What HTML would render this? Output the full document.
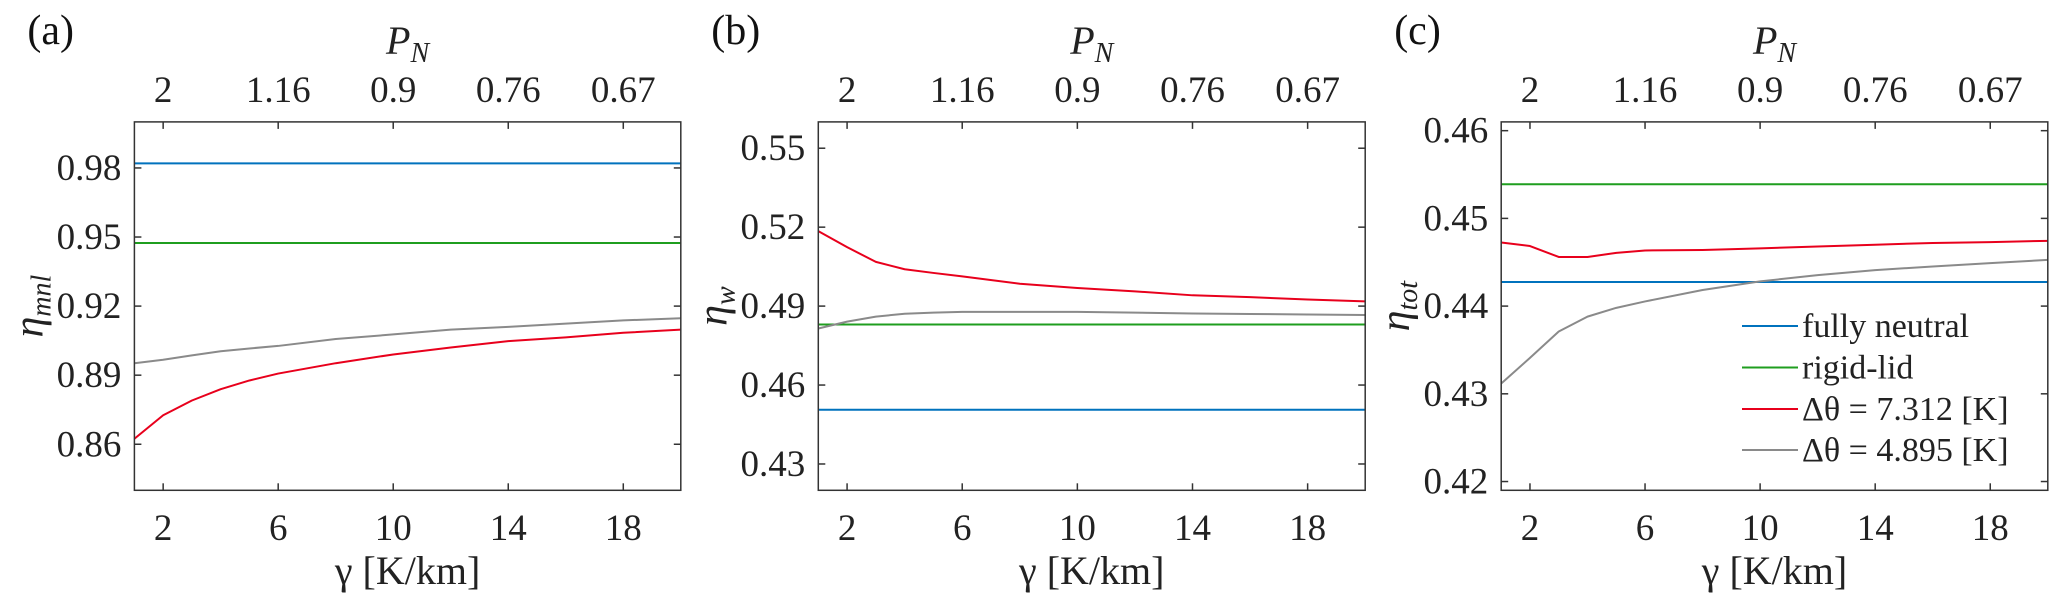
<!DOCTYPE html>
<html><head><meta charset="utf-8"><style>
html,body{margin:0;padding:0;background:#fff;}
svg text{font-family:"Liberation Serif","Times New Roman",Times,"DejaVu Serif",serif;}
</style></head><body>
<svg id="fig" width="2067" height="605" viewBox="0 0 2067 605" xmlns="http://www.w3.org/2000/svg"></svg>
<script>
const gammaX = [1,2,3,4,5,6,8,10,12,14,16,18,20];
const xTicks = [2,6,10,14,18];
const topTickLabels = ["2","1.16","0.9","0.76","0.67"];
// panel (a) eta_mnl
const aNeutral = 0.982;
const aRigid = 0.9474;
const aRed = [0.8624,0.8726,0.879,0.8839,0.8877,0.8907,0.8952,0.899,0.902,0.9048,0.9064,0.9084,0.9098];
const aGray = [0.8952,0.8967,0.8986,0.9004,0.9016,0.9027,0.9057,0.9077,0.9098,0.911,0.9124,0.9138,0.9147];
const aYTicks = [0.86,0.89,0.92,0.95,0.98];
// panel (b) eta_w
const bNeutral = 0.4506;
const bRigid = 0.483;
const bRed = [0.5185,0.5124,0.5068,0.504,0.5026,0.5013,0.4985,0.4969,0.4956,0.4941,0.4934,0.4925,0.4918];
const bGray = [0.4815,0.4841,0.486,0.4871,0.4875,0.4878,0.4878,0.4878,0.4875,0.4872,0.487,0.4868,0.4866];
const bYTicks = [0.43,0.46,0.49,0.52,0.55];
// panel (c) eta_tot
const cNeutral = 0.44275;
const cRigid = 0.45389;
const cRed = [0.44725,0.44685,0.4456,0.4456,0.44607,0.44634,0.4464,0.44658,0.4468,0.447,0.4472,0.4473,0.44744];
const cGray = [0.43117,0.4341,0.4371,0.4388,0.4398,0.44053,0.44184,0.44282,0.44353,0.4441,0.44452,0.4449,0.44527];
const cYTicks = [0.42,0.43,0.44,0.45,0.46];
const legendLabels = ["fully neutral","rigid-lid","\u0394\u03B8 = 7.312 [K]","\u0394\u03B8 = 4.895 [K]"];

const NS = "http://www.w3.org/2000/svg";
const svg = document.getElementById('fig');
const FONT = "'Liberation Serif', 'Times New Roman', Times, 'DejaVu Serif', serif";
const COL = {blue:"#0072BD", green:"#1f9e1f", red:"#e8001c", gray:"#8a8a8a"};
function mk(tag, attrs, parent){ const e=document.createElementNS(NS,tag); for(const k in attrs) e.setAttribute(k,attrs[k]); if(tag==='text') e.style.fontFamily=FONT; (parent||svg).appendChild(e); return e; }

const panels = [
 {key:"a", left:134.4, right:680.8, ylim:[0.84,1.0], yt:aYTicks, fmt:v=>v.toFixed(2), neutral:aNeutral, rigid:aRigid, red:aRed, gray:aGray, sub:"mnl"},
 {key:"b", left:818.3, right:1365.2, ylim:[0.42,0.56], yt:bYTicks, fmt:v=>v.toFixed(2), neutral:bNeutral, rigid:bRigid, red:bRed, gray:bGray, sub:"w"},
 {key:"c", left:1501.2, right:2047.8, ylim:[0.419,0.461], yt:cYTicks, fmt:v=>v.toFixed(2), neutral:cNeutral, rigid:cRigid, red:cRed, gray:cGray, sub:"tot"}
];
const TOP=121.9, BOT=490.3, XLIM=[1,20];

panels.forEach(p=>{
  const g = mk('g',{});
  
  
  const xs = v => p.left + (v-XLIM[0])/(XLIM[1]-XLIM[0])*(p.right-p.left);
  const ys = v => BOT - (v-p.ylim[0])/(p.ylim[1]-p.ylim[0])*(BOT-TOP);
  const lt = mk('text',{x:p.left-107,y:44,'font-size':42,fill:'#111'},g); lt.textContent='('+p.key+')';
  
  
  const cx=(p.left+p.right)/2;
  const pt = mk('text',{x:cx,y:54,'font-size':40,'text-anchor':'middle',fill:'#222'},g);
  
  
  const t1=mk('tspan',{'font-style':'italic'},pt); t1.textContent='P';
  const t2=mk('tspan',{'font-style':'italic','font-size':28,dy:8},pt); t2.textContent='N';
  const hl=(v,c,name)=>{ const l=mk('line',{x1:p.left,x2:p.right,y1:ys(v),y2:ys(v),stroke:c,'stroke-width':2},g);
      };
  hl(p.neutral,COL.blue,'fully-neutral-line');
  hl(p.rigid,COL.green,'rigid-lid-line');
  const pl=(arr,c,name)=>{ const l=mk('polyline',{points:arr.map((v,i)=>xs(gammaX[i])+','+ys(v)).join(' '),fill:'none',stroke:c,'stroke-width':2,'stroke-linejoin':'round'},g);
      };
  pl(p.gray,COL.gray,'dtheta-4.895-line');
  pl(p.red,COL.red,'dtheta-7.312-line');
  const box=mk('rect',{x:p.left,y:TOP,width:p.right-p.left,height:BOT-TOP,fill:'none',stroke:'#333','stroke-width':1.5},g);
  
  
  xTicks.forEach((t,i)=>{
    const x=xs(t);
    mk('line',{x1:x,x2:x,y1:BOT,y2:BOT-7,stroke:'#333','stroke-width':1.5},g);
    mk('line',{x1:x,x2:x,y1:TOP,y2:TOP+7,stroke:'#333','stroke-width':1.5},g);
    const bt=mk('text',{x:x,y:540,'font-size':37,'text-anchor':'middle',fill:'#222'},g); bt.textContent=String(t);
    
    
    const tt=mk('text',{x:x,y:102,'font-size':37,'text-anchor':'middle',fill:'#222'},g); tt.textContent=topTickLabels[i];
    
    
  });
  p.yt.forEach(t=>{
    const y=ys(t);
    mk('line',{x1:p.left,x2:p.left+7,y1:y,y2:y,stroke:'#333','stroke-width':1.5},g);
    mk('line',{x1:p.right,x2:p.right-7,y1:y,y2:y,stroke:'#333','stroke-width':1.5},g);
    const yl=mk('text',{x:p.left-13,y:y+12,'font-size':37,'text-anchor':'end',fill:'#222'},g); yl.textContent=p.fmt(t);
    
    
  });
  const xt=mk('text',{x:cx,y:584,'font-size':40,'text-anchor':'middle',fill:'#222'},g);
  xt.textContent='\u03B3 [K/km]';
  
  
  const yx=p.left-104, yy=(TOP+BOT)/2;
  const yt=mk('text',{x:yx,y:yy,'font-size':42,'text-anchor':'middle',fill:'#222',transform:`rotate(-90 ${yx} ${yy})`},g);
  
  
  const e1=mk('tspan',{'font-style':'italic',dy:12},yt); e1.textContent='\u03B7';
  const e2=mk('tspan',{'font-style':'italic','font-size':28,dy:8},yt); e2.textContent=p.sub;
});

const lg = mk('g',{});


const legCols=[COL.blue,COL.green,COL.red,COL.gray];
const legY=[326,367.5,409,450];
legendLabels.forEach((s,i)=>{
  const e=mk('g',{},lg);
  
  
  mk('line',{x1:1742,x2:1798,y1:legY[i],y2:legY[i],stroke:legCols[i],'stroke-width':2},e);
  const t=mk('text',{x:1802,y:legY[i]+11,'font-size':34,fill:'#222'},e); t.textContent=s;
});
</script>
</body></html>
